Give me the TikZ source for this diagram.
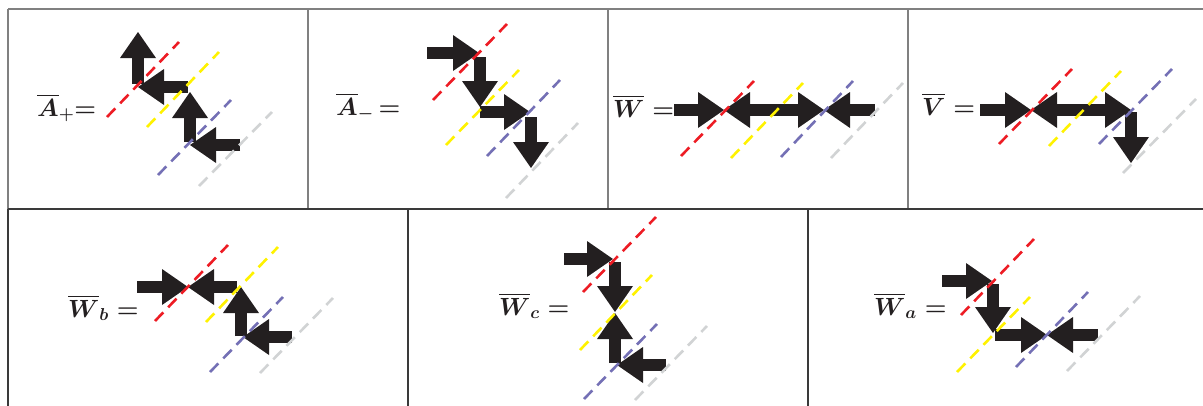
\documentclass[tikz,border=0pt]{standalone}
\usetikzlibrary{arrows.meta}
\usepackage{amsmath}
\definecolor{ink}{HTML}{231F20}
\definecolor{dred}{HTML}{ED1C24}
\definecolor{dyel}{HTML}{FFF200}
\definecolor{dblu}{HTML}{7470B5}
\definecolor{dgry}{HTML}{D1D3D4}
\definecolor{frgray}{HTML}{808080}
\definecolor{frdark}{HTML}{3A3A3A}
\newcommand\blkarrow[3]{\coordinate (#1s) at #2; \coordinate (#1e) at #3; \draw[blk] (#1s) -- (#1e);}
\newcommand\dline[4]{\coordinate (#1s) at #3; \coordinate (#1e) at #4; \draw[dl,draw=#2] (#1s) -- (#1e);}
\newcommand\lblfont{\fontsize{26}{30}\selectfont\boldmath}
\begin{document}
\begin{tikzpicture}[x=1pt,y=-1pt,
  blk/.style={draw=ink,line width=12pt,-{Triangle[width=36pt,length=26pt,line width=0pt,fill=ink]}},
  dl/.style={line width=2.6pt,dash pattern=on 12pt off 7pt},
  lbl/.style={anchor=base west,inner sep=0pt,font=\lblfont,text=ink},
  frtop/.style={draw=frgray,line width=1.4pt},
  frbot/.style={draw=frdark,line width=1.4pt}]
\useasboundingbox (0,0) rectangle (1203,405);
% frame
\coordinate (t0) at (8,9);
\coordinate (t4) at (1210,9);
\coordinate (m0) at (8,209);
\coordinate (m4) at (1210,209);
\draw[frtop] (t0) -- (t4);
\draw[frtop] (8,9) -- (8,209);
\draw[frtop] (308,9) -- (308,209);
\draw[frtop] (608,9) -- (608,209);
\draw[frtop] (908,9) -- (908,209);
\draw[frbot] (m0) -- (m4);
\draw[frbot] (8,209) -- (8,412);
\draw[frbot] (408,209) -- (408,412);
\draw[frbot] (808,209) -- (808,412);
% panel 1: A+
\blkarrow{p1a}{(138,84)}{(138,32)}
\blkarrow{p1b}{(188,87)}{(138,87)}
\blkarrow{p1c}{(190,142)}{(190,92)}
\blkarrow{p1d}{(240,145)}{(190,145)}
% panel 2: A-
\blkarrow{p2a}{(427,53)}{(479,53)}
\blkarrow{p2b}{(480,57)}{(480,107)}
\blkarrow{p2c}{(480,112)}{(530,112)}
\blkarrow{p2d}{(531,117)}{(531,168)}
% panel 3: W
\blkarrow{p3a}{(674,110)}{(724,110)}
\blkarrow{p3b}{(773,110)}{(724,110)}
\blkarrow{p3c}{(773,110)}{(824,110)}
\blkarrow{p3d}{(875,110)}{(824,110)}
% panel 4: V
\blkarrow{p4a}{(980,110)}{(1031,110)}
\blkarrow{p4b}{(1080,110)}{(1031,110)}
\blkarrow{p4c}{(1080,110)}{(1131,110)}
\blkarrow{p4d}{(1131,112)}{(1131,163)}
% panel 5: W_b
\blkarrow{p5a}{(137,287)}{(188,287)}
\blkarrow{p5b}{(237,287)}{(188,287)}
\blkarrow{p5c}{(241,336)}{(241,287)}
\blkarrow{p5d}{(292,337)}{(243,337)}
% panel 6: W_c
\blkarrow{p6a}{(564,259)}{(613,259)}
\blkarrow{p6b}{(615,262)}{(615,312)}
\blkarrow{p6c}{(615,363)}{(615,313)}
\blkarrow{p6d}{(666,365)}{(617,365)}
% panel 7: W_a
\blkarrow{p7a}{(942,281)}{(992,281)}
\blkarrow{p7b}{(993,284)}{(993,333)}
\blkarrow{p7c}{(995,335)}{(1047,335)}
\blkarrow{p7d}{(1098,335)}{(1047,335)}
% dashed lines
\dline{d1r}{dred}{(107,117)}{(179,42)}
\dline{d1y}{dyel}{(147,127)}{(219,52)}
\dline{d1b}{dblu}{(158,175)}{(231,100)}
\dline{d1g}{dgry}{(199,186)}{(272,112)}
\dline{d2r}{dred}{(433,100)}{(507,24)}
\dline{d2y}{dyel}{(446,145)}{(519,70)}
\dline{d2b}{dblu}{(487,156)}{(560,80)}
\dline{d2g}{dgry}{(506,198)}{(578,123)}
\dline{d3r}{dred}{(681,156)}{(754,81)}
\dline{d3y}{dyel}{(731,158)}{(803,83)}
\dline{d3b}{dblu}{(781,157)}{(853,81)}
\dline{d3g}{dgry}{(831,158)}{(903,83)}
\dline{d4r}{dred}{(999,144)}{(1072,69)}
\dline{d4y}{dyel}{(1049,146)}{(1121,71)}
\dline{d4b}{dblu}{(1099,144)}{(1172,69)}
\dline{d4g}{dgry}{(1123,173)}{(1196,99)}
\dline{d5r}{dred}{(155,321)}{(228,245)}
\dline{d5y}{dyel}{(206,322)}{(278,247)}
\dline{d5b}{dblu}{(210,372)}{(283,297)}
\dline{d5g}{dgry}{(260,373)}{(333,298)}
\dline{d6r}{dred}{(583,292)}{(656,217)}
\dline{d6y}{dyel}{(580,350)}{(652,275)}
\dline{d6b}{dblu}{(584,399)}{(657,324)}
\dline{d6g}{dgry}{(635,400)}{(707,326)}
\dline{d7r}{dred}{(961,315)}{(1034,239)}
\dline{d7y}{dyel}{(957,372)}{(1030,297)}
\dline{d7b}{dblu}{(1016,367)}{(1088,292)}
\dline{d7g}{dgry}{(1067,371)}{(1140,296)}
% labels
\node[lbl] (lA) at (37,116) {$\overline{A}_{+}\mathord{=}$};
\node[lbl] (lB) at (336,115) {$\overline{A}_{-}\,\mathord{=}$};
\node[lbl] (lC) at (613,117) {$\overline{W}\;\mathord{=}$};
\node[lbl] (lD) at (922,115) {$\overline{V}\;\mathord{=}$};
\node[lbl] (lE) at (68,317) {$\overline{W}_{b}\;\mathord{=}$};
\node[lbl] (lF) at (499,315) {$\overline{W}_{c}\;\mathord{=}$};
\node[lbl] (lG) at (874,315) {$\overline{W}_{a}\;\mathord{=}$};
\end{tikzpicture}
\end{document}
